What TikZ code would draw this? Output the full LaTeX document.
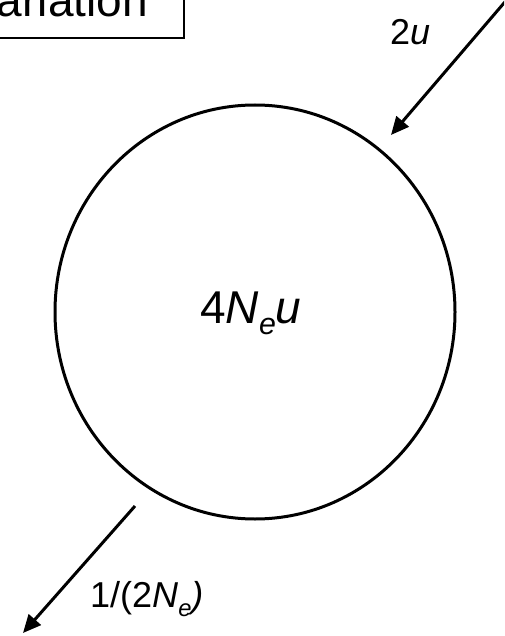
\documentclass[tikz,border=0pt]{standalone}
\usepackage{fontspec}
\setmainfont{Liberation Sans}
\usetikzlibrary{arrows.meta}
\tikzset{
  flow/.style={line width=3pt, -{Triangle[length=18pt,width=16pt]}},
  lbl/.style={inner sep=0pt, font=\fontsize{36}{40}\selectfont},
  biglbl/.style={inner sep=0pt, font=\fontsize{46}{50}\selectfont},
}
\newcommand{\subE}[1]{\raisebox{-0.25em}{\fontsize{0.66em}{1em}\selectfont\itshape #1}}
\begin{document}
\begin{tikzpicture}[x=1pt,y=-1pt]
\useasboundingbox (0,0) rectangle (504,636);
\begin{scope}
\clip (0,0) rectangle (504,636);
% title box (cut by the page edge)
\draw[line width=1.5pt] (-40,-40) rectangle (184,38);
\node[biglbl, anchor=base east] (title) at (148,17) {Variation};
% population circle
\draw[line width=3pt] (255,312) ellipse [x radius=200, y radius=207];
\node[biglbl, anchor=base west] (pop) at (200,323) {4\textit{N}\subE{e}\textit{u}};
% arrows
\coordinate (inS) at (510,-4);
\coordinate (inE) at (391,135);
\draw[flow] (inS) -- (inE);
\node[lbl, anchor=base west] (mu) at (390,45) {2\textit{u}};
\coordinate (outS) at (135,506);
\coordinate (outE) at (23,633);
\draw[flow] (outS) -- (outE);
\node[lbl, anchor=base west] (drift) at (90,607) {1/(2\textit{N}\subE{e}\textit{)}};
\end{scope}
\end{tikzpicture}
\end{document}
